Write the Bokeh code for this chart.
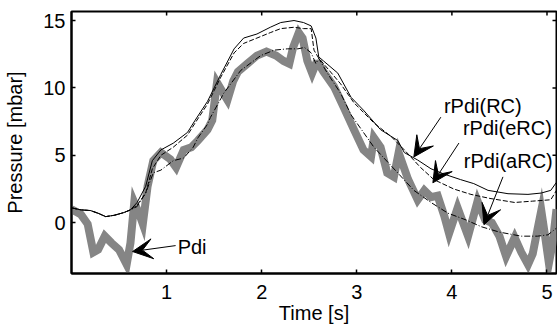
import math
from bokeh.plotting import figure
from bokeh.models import FixedTicker, Arrow, VeeHead
from bokeh.core.properties import value
from bokeh.embed import file_html
from bokeh.resources import INLINE

# ---- data ----
t_pdi = [0.0, 0.1, 0.17, 0.23, 0.28, 0.35, 0.42, 0.5, 0.58, 0.62, 0.66, 0.72, 0.75, 0.8, 0.86,
         0.94, 1.04, 1.1, 1.18, 1.26, 1.33, 1.43, 1.48, 1.53, 1.58, 1.64, 1.7, 1.75, 1.85, 1.95,
         2.05, 2.15, 2.23, 2.29, 2.33, 2.39, 2.43, 2.48, 2.53, 2.57, 2.6, 2.65, 2.76, 2.86, 2.97,
         3.07, 3.15, 3.18, 3.25, 3.32, 3.39, 3.44, 3.54, 3.64, 3.71, 3.78, 3.85, 3.92, 3.97, 4.06,
         4.17, 4.27, 4.35, 4.42, 4.5, 4.57, 4.66, 4.73, 4.8, 4.85, 4.9, 4.94, 4.98, 5.02, 5.06, 5.1]
y_pdi = [1.0, 0.6, -0.1, -2.2, -2.0, -1.0, -1.5, -2.0, -3.1, -1.5, 1.5, 0.5, -0.1, 2.7, 4.6,
         5.2, 4.7, 4.1, 5.4, 5.6, 6.1, 6.9, 7.6, 10.4, 9.8, 9.1, 10.5, 11.2, 11.8, 12.4,
         12.7, 12.4, 12.0, 11.8, 13.0, 14.1, 13.7, 12.0, 11.1, 11.8, 11.8, 11.2, 10.1, 8.6, 6.9,
         5.4, 4.9, 6.3, 5.6, 3.7, 3.4, 5.2, 3.2, 1.7, 2.4, 1.9, 2.0, 0.5, -0.8, 1.1,
         -1.0, 1.6, 0.2, 0.0, -1.0, -2.5, -1.1, -2.2, -3.1, -2.3, -0.5, 0.9, -1.0, -3.0, -1.5, 1.0]

t_rc = [0, 0.1, 0.2, 0.28, 0.36, 0.45, 0.55, 0.62, 0.69, 0.78, 0.85, 0.94, 1.07, 1.22, 1.3, 1.43,
        1.5, 1.57, 1.71, 1.81, 1.95, 2.09, 2.2, 2.34, 2.44, 2.52, 2.57, 2.6, 2.65, 2.8, 2.94, 3.07,
        3.25, 3.43, 3.5, 3.64, 3.78, 3.92, 4.09, 4.23, 4.38, 4.59, 4.8, 4.94, 5.04, 5.1]
y_rc = [1.1, 0.95, 0.9, 0.7, 0.45, 0.55, 0.75, 0.95, 1.5, 2.7, 4.6, 5.4, 5.9, 6.7, 7.6, 9.0,
        10.0, 11.0, 12.9, 13.7, 14.0, 14.5, 14.85, 15.0, 14.85, 14.6, 13.7, 12.3, 12.0, 11.1, 9.3, 8.35,
        6.9, 6.1, 5.2, 4.65, 4.0, 3.6, 3.2, 2.9, 2.4, 2.15, 2.1, 2.2, 2.4, 3.0]

t_erc = [0, 0.1, 0.2, 0.28, 0.36, 0.45, 0.55, 0.62, 0.69, 0.78, 0.85, 0.94, 1.07, 1.22, 1.3, 1.43,
         1.5, 1.57, 1.71, 1.81, 1.95, 2.09, 2.2, 2.34, 2.44, 2.52, 2.55, 2.6, 2.65, 2.83, 2.97,
         3.18, 3.36, 3.5, 3.67, 3.81, 4.02, 4.2, 4.4, 4.66, 4.85, 5.04, 5.1]
y_erc = [1.1, 0.95, 0.9, 0.7, 0.45, 0.55, 0.75, 0.95, 1.3, 2.2, 4.0, 5.0, 5.6, 6.5, 7.4, 8.8,
         9.8, 10.8, 12.6, 13.3, 13.7, 14.1, 14.4, 14.5, 14.4, 14.4, 12.8, 12.2, 11.8, 10.3, 8.9,
         7.4, 6.4, 5.4, 4.1, 3.2, 2.5, 2.1, 1.8, 1.5, 1.6, 1.7, 2.4]

t_arc = [0, 0.1, 0.2, 0.28, 0.36, 0.45, 0.55, 0.62, 0.69, 0.78, 0.86, 0.94, 1.07, 1.18, 1.28, 1.33,
         1.43, 1.46, 1.57, 1.6, 1.78, 1.99, 2.13, 2.27, 2.38, 2.45, 2.52, 2.57, 2.6, 2.69, 2.83,
         2.94, 3.18, 3.43, 3.6, 3.78, 3.96, 4.15, 4.31, 4.5, 4.73, 4.9, 5.01, 5.1]
y_arc = [1.1, 0.95, 0.9, 0.7, 0.45, 0.55, 0.75, 0.95, 1.2, 2.2, 3.7, 3.9, 4.6, 4.8, 5.6, 6.3,
         7.3, 7.8, 9.2, 9.6, 11.3, 12.4, 12.8, 12.9, 12.9, 13.0, 12.6, 11.8, 12.2, 11.1, 9.6,
         8.0, 5.6, 3.7, 2.4, 1.5, 0.7, 0.2, -0.3, -0.7, -1.0, -1.0, -0.9, -0.4]

x_ticks = [1, 2, 3, 4, 5]
y_ticks = [0, 5, 10, 15]
x_lim = (0, 5.1)
y_lim = (-3.77, 15.67)

label_text = ["Pdi", "rPdi(RC)", "rPdi(eRC)", "rPdi(aRC)"]
label_x = [1.116, 3.916, 4.116, 4.126]
label_y = [-1.77, 8.65, 7.02, 4.58]
arrow_x_start = [1.095, 3.884, 4.074, 4.537]
arrow_y_start = [-1.70, 7.83, 5.91, 3.40]
arrow_x_end = [0.642, 3.60, 3.80, 4.337]
arrow_y_end = [-2.14, 4.88, 2.96, -0.15]

FONT = "Liberation Sans"
FS = "20px"

p = figure(width=557, height=326, x_range=x_lim, y_range=y_lim,
           output_backend="svg", toolbar_location=None,
           min_border_left=71, min_border_right=1, min_border_top=11, min_border_bottom=52)
p.xgrid.visible = False
p.ygrid.visible = False
p.outline_line_color = "black"
p.outline_line_width = 2
p.background_fill_color = "white"
p.border_fill_color = "white"

for ax, ticks in ((p.xaxis[0], x_ticks), (p.yaxis[0], y_ticks)):
    ax.ticker = FixedTicker(ticks=ticks)
    ax.major_tick_in = 4
    ax.major_tick_out = 0
    ax.minor_tick_line_color = None
    ax.axis_line_width = 2
    ax.axis_line_color = "black"
    ax.major_tick_line_color = "black"
    ax.major_tick_line_width = 1.5
    ax.major_label_text_font = FONT
    ax.major_label_text_color = "black"
    ax.major_label_text_font_size = FS
    ax.axis_label_text_font = FONT
    ax.axis_label_text_font_size = FS
    ax.axis_label_text_font_style = "normal"
    ax.axis_label_text_color = "black"

p.xaxis.major_label_standoff = 11
p.yaxis.major_label_standoff = 6
p.xaxis.axis_label = "Time [s]"
p.xaxis.axis_label_standoff = 0
p.yaxis.axis_label = "Pressure [mbar]"
p.yaxis.axis_label_standoff = 14

# inward ticks on the top and right edges of the box
p.ray(x=x_ticks, y=[y_lim[1]] * len(x_ticks), length=4, length_units="screen",
      angle=-math.pi / 2, line_color="black", line_width=1.5)
p.ray(x=[x_lim[1]] * len(y_ticks), y=y_ticks, length=4, length_units="screen",
      angle=math.pi, line_color="black", line_width=1.5)

p.line(t_pdi, y_pdi, line_width=8, line_color="#858585", line_join="miter")
p.line(t_rc, y_rc, line_width=1, line_color="black")
p.line(t_erc, y_erc, line_width=1, line_color="black", line_dash="5 2")
p.line(t_arc, y_arc, line_width=1, line_color="black", line_dash="6 2 1 2")

for xs, ys, xe, ye in zip(arrow_x_start, arrow_y_start, arrow_x_end, arrow_y_end):
    p.add_layout(Arrow(end=VeeHead(size=20, fill_color="black", line_color="black"),
                       x_start=xs, y_start=ys, x_end=xe, y_end=ye,
                       line_width=1, line_color="black"))

p.text(x=label_x, y=label_y, text=label_text, text_font=value(FONT), text_font_size=FS,
       text_align="left", text_baseline="middle", text_color="black")

open("out.html", "w").write(file_html(p, INLINE))
